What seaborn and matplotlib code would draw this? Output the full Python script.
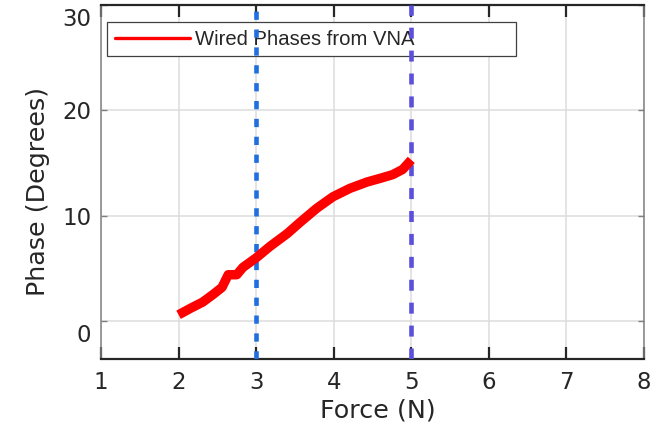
import matplotlib
matplotlib.use("Agg")
import matplotlib.pyplot as plt
import matplotlib.transforms as mtransforms
import numpy as np
import pandas as pd
import seaborn as sns

# Measured phase of the wired link versus applied force
force_n = [2.0, 2.15, 2.31, 2.44, 2.56, 2.64, 2.75, 2.83, 3.0, 3.18, 3.4,
           3.57, 3.78, 3.99, 4.21, 4.43, 4.6, 4.76, 4.89, 5.0]
phase_deg = [0.6, 1.2, 1.8, 2.5, 3.2, 4.4, 4.4, 5.1, 6.0, 7.1, 8.3,
             9.4, 10.7, 11.8, 12.6, 13.2, 13.55, 13.9, 14.4, 15.3]

# Force markers
marker_lo = 3
marker_hi = 5

x_ticks = [1, 2, 3, 4, 5, 6, 7, 8]
y_ticks = [0, 10, 20, 30]

df = pd.DataFrame({"Force (N)": force_n, "Phase (Degrees)": phase_deg})

sns.set_style("white")
plt.rcParams["font.family"] = ["DejaVu Sans"]

fig = plt.figure(figsize=(6.6, 4.28), dpi=100)
ax = fig.add_axes([101 / 660, 1 - 358.5 / 428, 543 / 660, 353.5 / 428])

sns.lineplot(data=df, x="Force (N)", y="Phase (Degrees)", ax=ax,
             color="#ff0000", linewidth=6.8, solid_capstyle="butt",
             solid_joinstyle="round", zorder=4, legend=False)

ax.axvline(marker_lo, color="#1f6fe0", linewidth=3.3, dashes=(1.8, 2.1),
           dash_capstyle="butt", zorder=3)
ax.axvline(marker_hi, color="#5b4fdc", linewidth=3.3, dashes=(2.4, 2.6),
           dash_capstyle="butt", zorder=3)

ax.set_xlim(1, 8)
ax.set_ylim(-3.55, 30)
ax.set_xticks(x_ticks)
ax.set_yticks(y_ticks)
ax.set_xticklabels([str(v) for v in x_ticks])
ax.set_yticklabels([str(v) for v in y_ticks])

ax.set_axisbelow(True)
ax.grid(True, color="#dcdcdc", linewidth=1.1)

ax.set_xlabel("Force (N)", fontsize=18.3, color="#262626", labelpad=3)
ax.set_ylabel("Phase (Degrees)", fontsize=18.3, color="#262626", labelpad=9)
ax.xaxis.label.set_x(0.51)
ax.yaxis.label.set_y(0.474)

ax.tick_params(axis="x", which="both", direction="in", length=8.6, width=1.6,
               color="#262626", top=True, bottom=True, labelsize=16.5,
               labelcolor="#262626", pad=9)
ax.tick_params(axis="y", which="both", direction="in", length=4, width=1.0,
               color="#7f7f7f", left=True, right=True, labelsize=16.5,
               labelcolor="#262626", pad=7)

# End labels on the y axis sit a little lower than their ticks
shift = mtransforms.ScaledTranslation(0, -12 / 100, fig.dpi_scale_trans)
ylabels = ax.get_yticklabels()
for lab in (ylabels[0], ylabels[-1]):
    lab.set_transform(lab.get_transform() + shift)

for side in ("top", "bottom"):
    ax.spines[side].set_color("#262626")
    ax.spines[side].set_linewidth(1.6)
for side in ("left", "right"):
    ax.spines[side].set_color("#808080")
    ax.spines[side].set_linewidth(1.1)

handles = [plt.Line2D([], [], color="#ff0000", linewidth=2.4)]
leg = ax.legend(handles, ["Wired Phases from VNA"], loc="upper left",
                bbox_to_anchor=(0.011, 0.862, 0.753, 0.09), mode="expand",
                prop={"family": ["Liberation Sans"], "size": 14.6},
                frameon=True, fancybox=False, framealpha=1,
                edgecolor="#404040", borderpad=0.38, handlelength=3.7,
                handletextpad=0.25, borderaxespad=0)
leg.get_frame().set_linewidth(0.9)
leg.set_zorder(2)

fig.savefig("out.png", dpi=100)
